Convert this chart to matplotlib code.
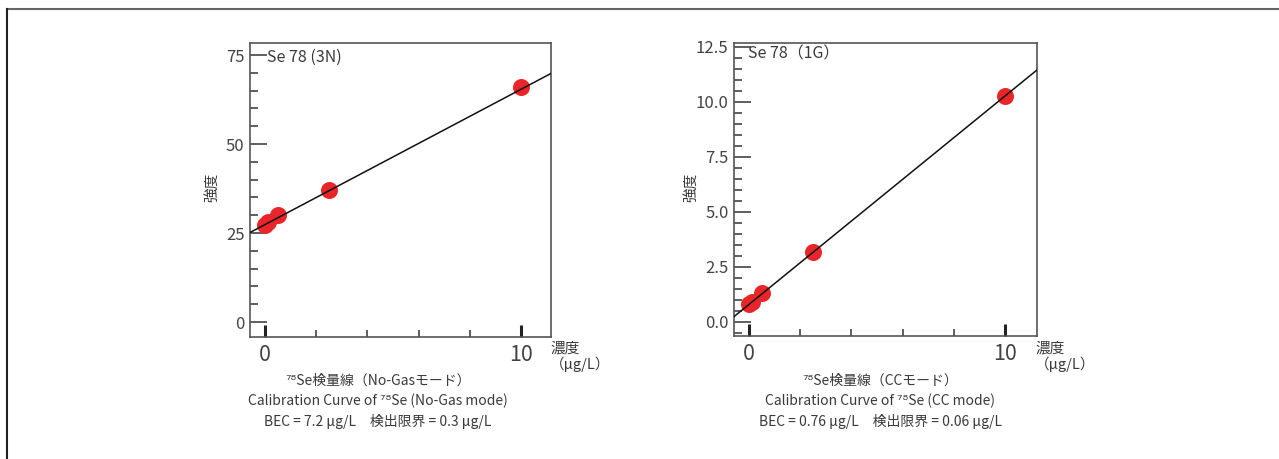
import numpy as np
import matplotlib
matplotlib.use("Agg")
from matplotlib import pyplot as plt
from matplotlib.lines import Line2D
from matplotlib.ticker import MultipleLocator, FormatStrFormatter

plt.rcParams['font.family'] = ['Noto Sans CJK JP', 'DejaVu Sans']

# concentration (ug/L) and intensity
conc = [0, 0.1, 0.5, 2.5, 10]
nogas_int = [27.2, 28.0, 30.0, 37.1, 65.9]
cc_int = [0.80, 0.88, 1.29, 3.18, 10.26]
# calibration lines (slope, intercept)
nogas_fit = (3.80, 27.4)
cc_fit = (0.947, 0.79)

panels = [
    dict(rect=[250/1279, 1-337/459, 301/1279, 294/459], y=nogas_int, fit=nogas_fit,
         ylim=(-4.2, 78.4), xlim=(-0.59, 11.17), major=25, minor=5, fmt='%d',
         tag='Se 78 (3N)', tagpos=(0.056, 0.95), cx=378,
         lines=['⁷⁸Se検量線（No-Gasモード）',
                'Calibration Curve of ⁷⁸Se (No-Gas mode)',
                'BEC = 7.2 μg/L　検出限界 = 0.3 μg/L'],
         unit_x=550, ylab_x=213),
    dict(rect=[734/1279, 1-336/459, 303/1279, 293/459], y=cc_int, fit=cc_fit,
         ylim=(-0.65, 12.67), xlim=(-0.59, 11.25), major=2.5, minor=0.5, fmt='%.1f',
         tag='Se 78（1G）', tagpos=(0.046, 0.962), cx=880,
         lines=['⁷⁸Se検量線（CCモード）',
                'Calibration Curve of ⁷⁸Se (CC mode)',
                'BEC = 0.76 μg/L　検出限界 = 0.06 μg/L'],
         unit_x=1035, ylab_x=692),
]

fig = plt.figure(figsize=(12.79, 4.59), dpi=100)
W, H = 1279, 459

# outer frame (top and left edges only)
fig.add_artist(Line2D([7/W, 1], [1-9/H, 1-9/H], color='#666666', lw=1.5))
fig.add_artist(Line2D([7/W, 7/W], [0, 1-9/H], color='#222222', lw=1.5))

txt = '#3a3a3a'
for p in panels:
    ax = fig.add_axes(p['rect'])
    ax.scatter(conc, p['y'], s=150, color='#e8262a', zorder=2, linewidths=0)
    xs = np.array(p['xlim'])
    ax.plot(xs, p['fit'][1] + p['fit'][0] * xs, color='#111111', lw=1.1, zorder=3)
    ax.set_xlim(*p['xlim'])
    ax.set_ylim(*p['ylim'])
    for s in ax.spines.values():
        s.set_color('#555555')
        s.set_linewidth(1.2)
    ax.set_xticks([0, 10])
    ax.set_xticks([2, 4, 6, 8], minor=True)
    ax.yaxis.set_major_locator(MultipleLocator(p['major']))
    ax.yaxis.set_minor_locator(MultipleLocator(p['minor']))
    ax.yaxis.set_major_formatter(FormatStrFormatter(p['fmt']))
    ax.tick_params(axis='x', which='major', direction='in', length=9, width=2.2,
                   color='#222222', labelsize=15.5, labelcolor='#444444', pad=5)
    ax.tick_params(axis='x', which='minor', direction='in', length=5, width=1.1,
                   color='#333333')
    ax.tick_params(axis='y', which='major', direction='in', length=12, width=1.1,
                   color='#333333', labelsize=12, labelcolor='#444444', pad=4)
    ax.tick_params(axis='y', which='minor', direction='in', length=6, width=1.1,
                   color='#333333')
    ax.text(p['tagpos'][0], p['tagpos'][1], p['tag'], transform=ax.transAxes,
            fontsize=11.5, color=txt, va='center', ha='left')

    fig.text(p['ylab_x']/W, 1-187/H, '強度', rotation=90, fontsize=10.5,
             color=txt, ha='center', va='center')
    fig.text(p['unit_x']/W, 1-342/H, '濃度\n（μg/L）', fontsize=10.5, color=txt,
             ha='left', va='top', linespacing=1.05)
    for i, line in enumerate(p['lines']):
        fig.text(p['cx']/W, 1-(381 + 20*i)/H, line, fontsize=10, color=txt,
                 ha='center', va='center')

fig.savefig('out.png', dpi=100)
